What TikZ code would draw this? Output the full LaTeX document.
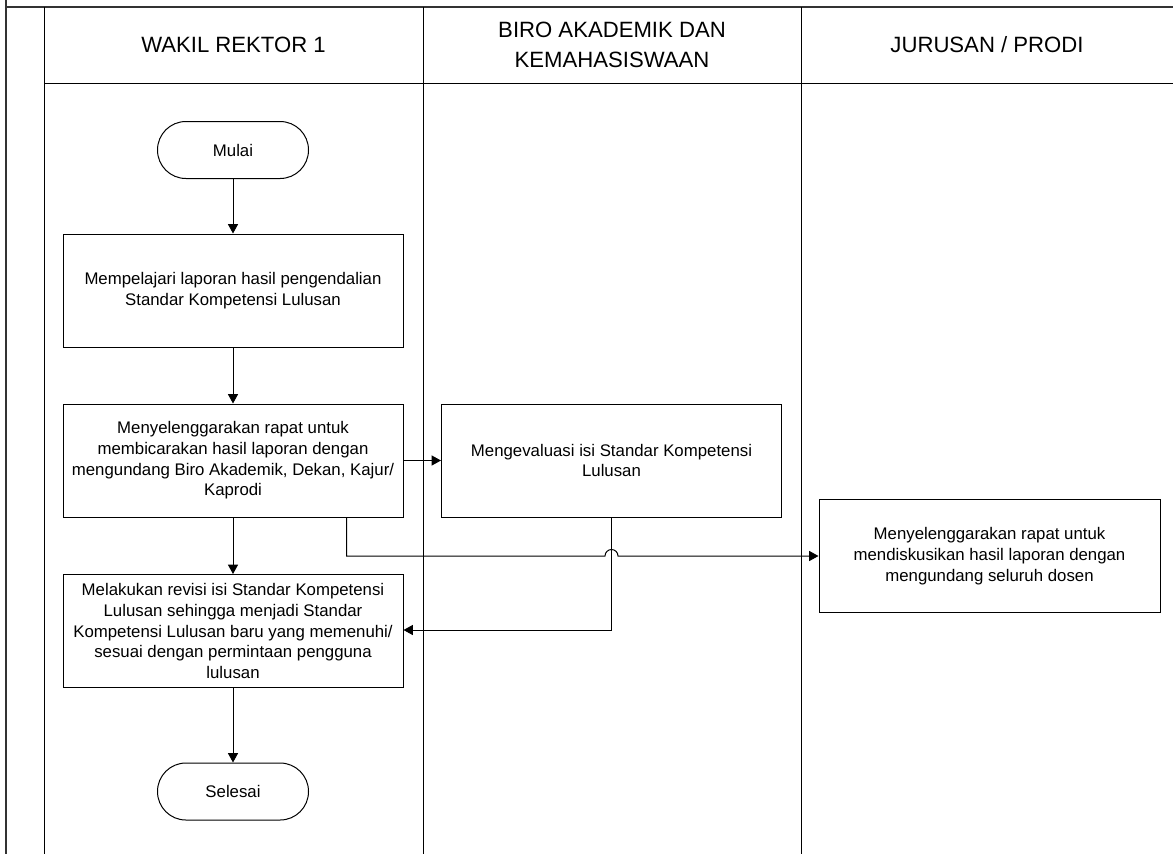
\documentclass[tikz,border=0pt]{standalone}
\usepackage{fontspec}
\setmainfont{Liberation Sans}
\usetikzlibrary{arrows.meta}

\begin{document}
\begin{tikzpicture}[
    x=0.75pt, y=-0.75pt,
    outer/.style ={
        draw=black!80,
        line width=1.5pt
    },
    lane/.style ={
        draw=black,
        line width=0.75pt
    },
    head/.style ={
        align=center,
        font=\fontsize{16.6}{22.5}\selectfont
    },
    proc/.style ={
        rectangle,
        draw=black,
        line width=0.75pt,
        minimum width=255pt,
        minimum height=84.75pt,
        align=center,
        font=\fontsize{12.6}{15.5}\selectfont
    },
    term/.style ={
        rectangle,
        rounded corners=21.3pt,
        draw=black,
        line width=0.75pt,
        minimum width=113.25pt,
        minimum height=42.75pt,
        font=\fontsize{12.6}{15.5}\selectfont
    },
    flow/.style ={
        draw=black,
        line width=0.75pt,
        -{Triangle[length=7pt,width=7.5pt]}
    }
    ]
    \useasboundingbox (0,0) rectangle (1173,854);

    % swimlanes
    \draw[outer] (6,0) -- (6,854);
    \draw[outer] (6,7) -- (1173,7);
    \foreach \x in {44,423,801}
        \draw[lane] (\x,7) -- (\x,854);
    \draw[lane] (44,83) -- (1173,83);

    \node[head] (wr)  at (233.5,45) {WAKIL REKTOR 1};
    \node[head] (bak) at (612,45)   {BIRO AKADEMIK DAN\\KEMAHASISWAAN};
    \node[head] (jp)  at (987,45)   {JURUSAN / PRODI};

    % steps
    \node[term] (mulai)    at (233,150)   {Mulai};
    \node[proc] (pelajari) at (233,290.5) {Mempelajari laporan hasil pengendalian\\Standar Kompetensi Lulusan};
    \node[proc] (rapat)    at (233,460.5) {Menyelenggarakan rapat untuk\\membicarakan hasil laporan dengan\\mengundang Biro Akademik, Dekan, Kajur/\\Kaprodi};
    \node[proc] (revisi)   at (233,631)   {Melakukan revisi isi Standar Kompetensi\\Lulusan sehingga menjadi Standar\\Kompetensi Lulusan baru yang memenuhi/\\sesuai dengan permintaan pengguna\\lulusan};
    \node[term] (selesai)  at (233,791.5) {Selesai};
    \node[proc] (evaluasi) at (611.5,460.5) {Mengevaluasi isi Standar Kompetensi\\Lulusan};
    \node[proc, minimum width=255.75pt] (diskusi) at (989.5,556) {Menyelenggarakan rapat untuk\\mendiskusikan hasil laporan dengan\\mengundang seluruh dosen};

    \foreach \src/ \dst in {mulai/pelajari, pelajari/rapat, rapat/revisi, revisi/selesai}
        \draw[flow] (\src) -- (\dst);

    \draw[flow] (rapat.east) -- (evaluasi.west);
    \coordinate (jmp) at (evaluasi.south |- diskusi.west);
    \draw[flow] ([xshift=-42.75pt]rapat.south east) |- ([xshift=-4.875pt]jmp)
        arc (180:360:6.5) -- (diskusi.west);
    \draw[flow] (evaluasi.south) |- ([yshift=0.75pt]revisi.east);

\end{tikzpicture}
\end{document}
